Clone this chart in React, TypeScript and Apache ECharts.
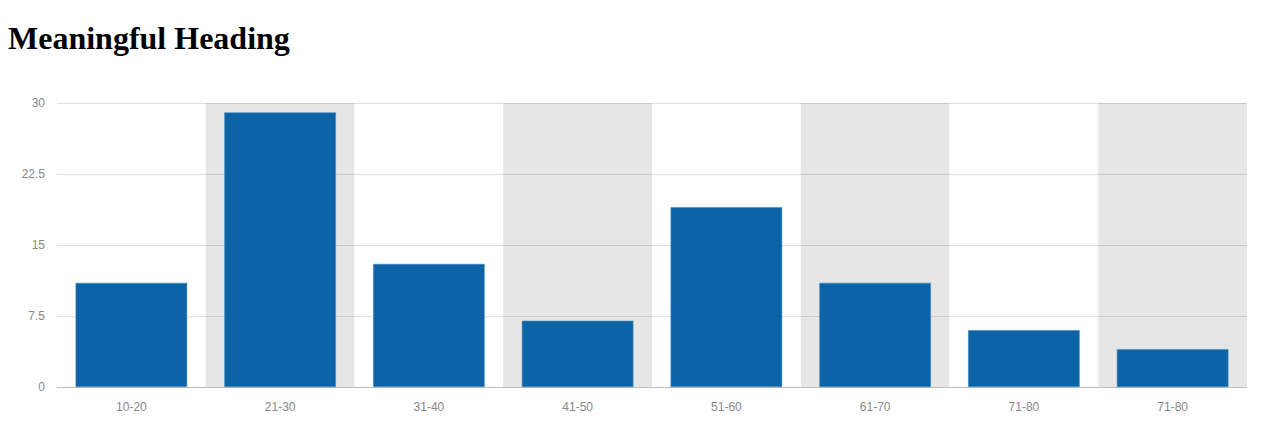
import React, { useEffect, useRef } from "react";
import * as echarts from "echarts";

const categories = ["10-20", "21-30", "31-40", "41-50", "51-60", "61-70", "71-80", "71-80"];
const values = [11, 29, 13, 7, 19, 11, 6, 4];
const yTicks = { min: 0, max: 30, interval: 7.5 };

export default function App() {
  const ref = useRef<HTMLDivElement>(null);
  useEffect(() => {
    if (!ref.current) return;
    const chart = echarts.init(ref.current, undefined, { renderer: "svg" });
    chart.setOption({
      animation: false,
      grid: { left: 49, right: 10, top: 25, bottom: 33 },
      xAxis: {
        type: "category",
        data: categories,
        z: 0,
        axisLine: { show: true, lineStyle: { color: "#d9d9d9", width: 1 } },
        axisTick: { show: false },
        axisLabel: { color: "#888", fontFamily: "Liberation Sans", fontSize: 12, margin: 14 },
        splitArea: { show: true, areaStyle: { color: ["#ffffff", "#e6e6e6"] } },
      },
      yAxis: {
        type: "value",
        z: 1,
        min: yTicks.min,
        max: yTicks.max,
        interval: yTicks.interval,
        axisLine: { show: false },
        axisTick: { show: false },
        axisLabel: { color: "#888", fontFamily: "Liberation Sans", fontSize: 12, margin: 12 },
        splitLine: { show: true, lineStyle: { color: "rgba(0,0,0,0.12)", width: 1 } },
      },
      series: [
        {
          type: "bar",
          z: 2,
          data: values,
          barWidth: "75%",
          itemStyle: { color: "#0c64a6", borderColor: "#3f86bd", borderWidth: 0.6 },
        },
      ],
    });
    return () => chart.dispose();
  }, []);
  return (
    <div>
      <h1 style={{ marginTop: 12, marginBottom: 21 }}>Meaningful Heading</h1>
      <div ref={ref} style={{ width: "100%", height: 342 }} />
    </div>
  );
}
